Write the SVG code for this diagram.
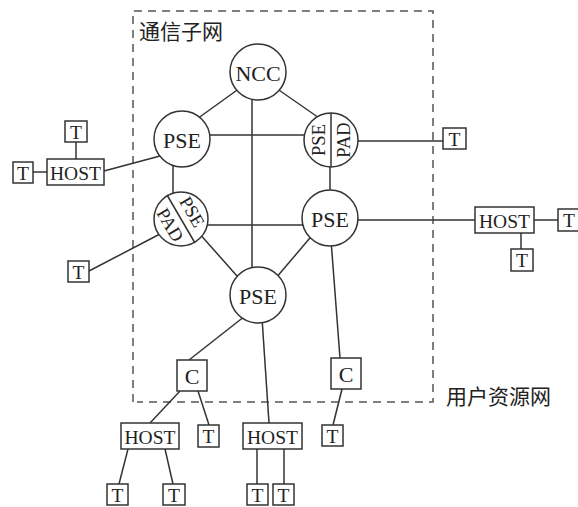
<svg xmlns="http://www.w3.org/2000/svg" width="578" height="507" viewBox="0 0 578 507">
<style>
.ln{stroke:#333;stroke-width:1.5;fill:none}
.bx{fill:#fff;stroke:#333;stroke-width:1.5}
.cr{fill:#fff;stroke:#333;stroke-width:1.5}
.dash{fill:none;stroke:#555;stroke-width:1.5;stroke-dasharray:8 6}
text{font-family:"Liberation Serif","Times New Roman",serif;fill:#222;text-anchor:middle;dominant-baseline:central}
.big{font-size:22px}
.mid{font-size:19.5px}
.sm{font-size:18.5px}
.lbl{font-family:"Noto Sans CJK SC","Noto Sans",sans-serif;font-size:21px;text-anchor:start}
</style>
<rect width="578" height="507" fill="#fff"/>
<g id="subnet-boundary">
<path class="dash" d="M133,402 L133,11 L433,11 L433,402 L137,402"/>
<text class="lbl" x="139" y="30">通信子网</text>
<text class="lbl" x="446" y="395">用户资源网</text>
</g>
<g id="connectors">
<line class="ln" x1="240" y1="88" x2="190" y2="124"/>
<line class="ln" x1="252" y1="95" x2="252" y2="272"/>
<line class="ln" x1="276" y1="88" x2="322" y2="120"/>
<line class="ln" x1="200" y1="135" x2="315" y2="135"/>
<line class="ln" x1="173" y1="160" x2="173" y2="198"/>
<line class="ln" x1="200" y1="225" x2="315" y2="225"/>
<line class="ln" x1="198" y1="232" x2="245" y2="285"/>
<line class="ln" x1="315" y1="232" x2="270" y2="285"/>
<line class="ln" x1="330" y1="160" x2="330" y2="200"/>
<line class="ln" x1="350" y1="141" x2="443" y2="141"/>
<line class="ln" x1="350" y1="220" x2="475" y2="220"/>
<line class="ln" x1="534" y1="220" x2="558" y2="220"/>
<line class="ln" x1="521" y1="233" x2="521" y2="249"/>
<line class="ln" x1="331" y1="240" x2="340" y2="358"/>
<line class="ln" x1="104" y1="171" x2="160" y2="156"/>
<line class="ln" x1="76" y1="142" x2="76" y2="159"/>
<line class="ln" x1="33" y1="172" x2="47" y2="172"/>
<line class="ln" x1="89" y1="271" x2="160" y2="234"/>
<line class="ln" x1="245" y1="316" x2="189" y2="360"/>
<line class="ln" x1="262" y1="318" x2="269" y2="423"/>
<line class="ln" x1="180" y1="391" x2="150" y2="423"/>
<line class="ln" x1="198" y1="391" x2="209" y2="425"/>
<line class="ln" x1="342" y1="389" x2="333" y2="425"/>
<line class="ln" x1="128" y1="449" x2="119" y2="484"/>
<line class="ln" x1="165" y1="449" x2="173" y2="484"/>
<line class="ln" x1="257" y1="449" x2="257" y2="484"/>
<line class="ln" x1="284" y1="449" x2="284" y2="484"/>
</g>
<g id="ncc"><circle class="cr" cx="258" cy="72" r="28"/><text class="big" x="258" y="73">NCC</text></g>
<g id="pse-tl"><circle class="cr" cx="182" cy="139" r="28"/><text class="big" x="182" y="140">PSE</text></g>
<g id="psepad-left"><circle class="cr" cx="181" cy="219" r="27"/>
<line class="ln" x1="167" y1="195" x2="195" y2="243"/>
<text class="sm" transform="translate(192,212) rotate(60)">PSE</text>
<text class="sm" transform="translate(170,225) rotate(60)">PAD</text></g>
<g id="psepad-right"><circle class="cr" cx="331" cy="140" r="27"/>
<line class="ln" x1="331" y1="113" x2="331" y2="167"/>
<text class="sm" transform="translate(319,140) rotate(-90)">PSE</text>
<text class="sm" transform="translate(344,140) rotate(-90)">PAD</text></g>
<g id="pse-right"><circle class="cr" cx="330" cy="218" r="28"/><text class="big" x="330" y="219">PSE</text></g>
<g id="pse-bottom"><circle class="cr" cx="258" cy="295" r="28"/><text class="big" x="258" y="296">PSE</text></g>
<g id="host-left"><rect class="bx" x="47" y="159" width="57" height="26"/><text class="mid" x="75.5" y="173">HOST</text></g>
<g id="t-lt"><rect class="bx" x="65" y="121" width="22" height="21"/><text class="mid" x="76" y="132">T</text></g>
<g id="t-ll"><rect class="bx" x="13" y="162" width="20" height="21"/><text class="mid" x="23" y="173">T</text></g>
<g id="t-lb"><rect class="bx" x="68" y="261" width="21" height="21"/><text class="mid" x="78.5" y="272">T</text></g>
<g id="t-r1"><rect class="bx" x="443" y="128" width="23" height="21"/><text class="mid" x="454.5" y="139">T</text></g>
<g id="host-right"><rect class="bx" x="475" y="207" width="59" height="26"/><text class="mid" x="504.5" y="221">HOST</text></g>
<g id="t-rr"><rect class="bx" x="558" y="209" width="23" height="22"/><text class="mid" x="569" y="220">T</text></g>
<g id="t-rb"><rect class="bx" x="511" y="249" width="22" height="22"/><text class="mid" x="522" y="260">T</text></g>
<g id="c-left"><rect class="bx" x="177" y="360" width="30" height="31"/><text class="big" x="192" y="376">C</text></g>
<g id="c-right"><rect class="bx" x="331" y="358" width="30" height="31"/><text class="big" x="346" y="374">C</text></g>
<g id="host-bl"><rect class="bx" x="121" y="423" width="58" height="26"/><text class="mid" x="150" y="437">HOST</text></g>
<g id="t-c"><rect class="bx" x="198" y="425" width="21" height="22"/><text class="mid" x="208.5" y="436">T</text></g>
<g id="host-bm"><rect class="bx" x="243" y="423" width="59" height="26"/><text class="mid" x="272.5" y="437">HOST</text></g>
<g id="t-cr"><rect class="bx" x="322" y="425" width="21" height="21"/><text class="mid" x="332.5" y="436">T</text></g>
<g id="t-b1"><rect class="bx" x="107" y="484" width="21" height="21"/><text class="mid" x="117.5" y="495">T</text></g>
<g id="t-b2"><rect class="bx" x="163" y="484" width="22" height="21"/><text class="mid" x="174" y="495">T</text></g>
<g id="t-b3"><rect class="bx" x="247" y="484" width="21" height="21"/><text class="mid" x="257.5" y="495">T</text></g>
<g id="t-b4"><rect class="bx" x="273" y="484" width="21" height="21"/><text class="mid" x="283.5" y="495">T</text></g>
</svg>
